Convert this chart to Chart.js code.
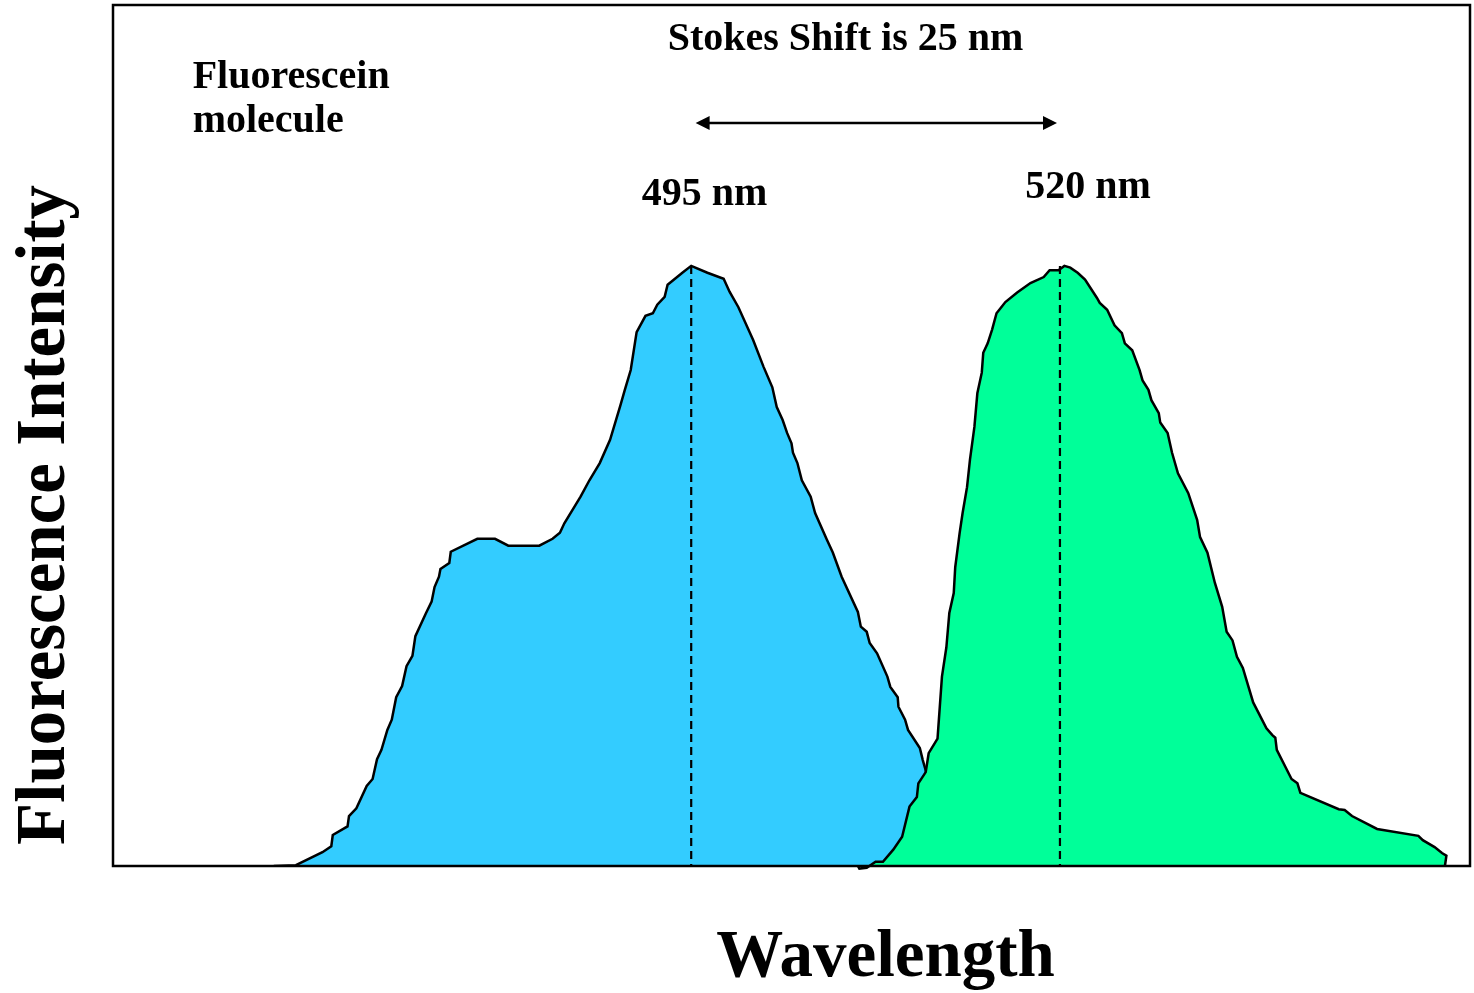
<!DOCTYPE html>
<html><head><meta charset="utf-8">
<script src="https://cdn.jsdelivr.net/npm/chart.js@4.4.0/dist/chart.umd.min.js"></script>
<style>html,body{margin:0;padding:0;background:#fff;} #wrap{width:1474px;height:993px;}</style>
</head><body><div id="wrap"><canvas id="c" width="1474" height="993"></canvas></div>
<script>
// Excitation (absorption) spectrum of fluorescein - blue
const excitationWavelength = [466.7, 468.2, 470.0, 470.6, 470.7, 471.7, 471.8, 472.3, 473.0, 473.4, 473.7, 474.0, 474.4, 474.7, 475.0, 475.4, 475.7, 476.1, 476.3, 477.0, 477.4, 477.6, 477.9, 478.0, 478.6, 478.7, 480.5, 481.7, 482.6, 484.7, 485.6, 486.1, 486.4, 487.5, 488.1, 488.8, 489.5, 490.2, 490.5, 490.9, 491.3, 491.9, 492.4, 492.7, 493.2, 493.4, 494.4, 495.0, 496.1, 497.2, 497.6, 498.2, 499.2, 499.9, 500.5, 500.8, 501.2, 501.5, 501.8, 501.9, 502.2, 502.5, 503.1, 503.4, 504.2, 504.6, 505.2, 506.3, 506.5, 506.9, 507.1, 507.6, 508.3, 508.5, 509.0, 509.05, 509.5, 509.7, 510.5, 510.7, 510.9, 511.2, 511.6];
const excitationIntensity = [0, 0.1, 1.6, 2.3, 3.6, 4.6, 5.8, 6.7, 9.3, 10.1, 12.4, 13.5, 15.8, 17.0, 19.6, 20.9, 23.2, 24.4, 26.7, 29.3, 30.7, 32.4, 33.6, 34.5, 35.2, 36.5, 38.0, 38.0, 37.2, 37.2, 38.0, 38.7, 39.8, 42.9, 44.8, 46.8, 49.5, 53.5, 55.3, 57.6, 62.0, 63.9, 64.2, 65.2, 66.1, 67.5, 68.9, 69.7, 68.9, 68.2, 66.7, 64.9, 61.1, 58.0, 55.6, 53.3, 51.8, 50.3, 49.1, 48.0, 46.8, 44.8, 42.9, 41.0, 37.9, 36.4, 33.6, 29.5, 27.8, 27.2, 25.9, 24.7, 22.0, 20.8, 19.6, 18.5, 17.0, 15.8, 13.7, 12.3, 11.1, 7.7, 0];

// Emission spectrum of fluorescein - green
const emissionWavelength = [506.3, 506.4, 506.9, 507.5, 508.0, 508.7, 509.3, 509.8, 510.3, 510.4, 510.9, 511.1, 511.7, 512.0, 512.3, 512.5, 512.8, 512.9, 513.2, 513.4, 513.7, 513.9, 514.2, 514.4, 514.7, 514.8, 515.1, 515.4, 515.7, 516.3, 517.1, 518.0, 518.9, 519.3, 519.9, 520.3, 520.7, 521.2, 521.7, 522.5, 522.7, 523.2, 523.7, 524.2, 524.4, 524.9, 525.4, 525.6, 526.0, 526.2, 526.7, 526.8, 527.3, 527.6, 528.0, 528.7, 529.3, 529.5, 530.0, 530.5, 531.0, 531.3, 531.7, 532.0, 532.4, 533.1, 534.0, 534.4, 534.6, 534.7, 535.7, 536.1, 536.3, 538.9, 539.3, 539.8, 541.5, 544.3, 544.6, 545.4, 545.9, 546.2, 546.1];
const emissionIntensity = [0, -0.3, -0.2, 0.5, 0.5, 1.9, 3.4, 6.9, 8.0, 9.6, 10.9, 13.1, 14.8, 22.0, 25.4, 29.4, 31.7, 34.7, 38.7, 41.0, 44.0, 47.2, 51.0, 54.9, 57.3, 59.6, 60.7, 62.3, 64.2, 65.5, 66.6, 67.7, 68.4, 69.2, 69.2, 69.7, 69.5, 68.9, 68.1, 66.0, 65.4, 64.6, 62.8, 61.9, 60.7, 59.9, 57.6, 56.4, 55.3, 54.1, 52.6, 51.5, 50.3, 48.0, 45.6, 43.3, 40.2, 38.2, 36.4, 32.9, 30.1, 27.2, 26.2, 24.3, 23.0, 19.0, 16.0, 15.2, 14.9, 13.5, 10.1, 9.6, 8.5, 6.6, 6.5, 5.8, 4.3, 3.5, 3.0, 2.2, 1.5, 1.2, 0];

const peakWavelengths = [495, 520];
const peakIntensities = [69.7, 69.7];
const peakLabels = ['495 nm', '520 nm'];
const shiftLabel = 'Stokes Shift is 25 nm';
const moleculeLabel = ['Fluorescein', 'molecule'];
const xAxisTitle = 'Wavelength';
const yAxisTitle = 'Fluorescence Intensity';

const zip = (xs, ys) => xs.map((x, i) => ({x, y: ys[i]}));

const FONT = '"Liberation Serif", "Times New Roman", serif';

const annotate = {
  id: 'annotate',
  afterDraw(chart) {
    const {ctx, chartArea: a, scales: {x, y}} = chart;
    ctx.save();
    // frame
    ctx.strokeStyle = '#000';
    ctx.lineWidth = 2.5;
    ctx.strokeRect(a.left, a.top, a.right - a.left, a.bottom - a.top);

    // double-headed arrow for Stokes shift
    const ay = y.getPixelForValue(86.3);
    const ax1 = x.getPixelForValue(495.3);
    const ax2 = x.getPixelForValue(519.8);
    const hl = 14, hw = 7;
    ctx.lineWidth = 2.5;
    ctx.beginPath();
    ctx.moveTo(ax1 + hl - 2, ay);
    ctx.lineTo(ax2 - hl + 2, ay);
    ctx.stroke();
    ctx.fillStyle = '#000';
    ctx.beginPath();
    ctx.moveTo(ax1, ay); ctx.lineTo(ax1 + hl, ay - hw); ctx.lineTo(ax1 + hl, ay + hw); ctx.closePath(); ctx.fill();
    ctx.beginPath();
    ctx.moveTo(ax2, ay); ctx.lineTo(ax2 - hl, ay - hw); ctx.lineTo(ax2 - hl, ay + hw); ctx.closePath(); ctx.fill();

    // texts
    ctx.fillStyle = '#000';
    ctx.textBaseline = 'alphabetic';
    ctx.font = 'bold 40px ' + FONT;
    ctx.textAlign = 'center';
    ctx.fillText(shiftLabel, x.getPixelForValue(505.46), y.getPixelForValue(94.8));
    ctx.fillText(peakLabels[0], x.getPixelForValue(495.9), y.getPixelForValue(76.8));
    ctx.fillText(peakLabels[1], x.getPixelForValue(521.9), y.getPixelForValue(77.6));
    ctx.textAlign = 'left';
    ctx.fillText(moleculeLabel[0], x.getPixelForValue(461.2), y.getPixelForValue(90.4));
    ctx.fillText(moleculeLabel[1], x.getPixelForValue(461.2), y.getPixelForValue(85.2));

    // axis titles
    ctx.textAlign = 'center';
    ctx.font = 'bold 67px ' + FONT;
    ctx.fillText(xAxisTitle, 885.5, a.bottom + 110);
    ctx.save();
    ctx.font = 'bold 69px ' + FONT;
    ctx.translate(a.left - 49, 515);
    ctx.rotate(-Math.PI / 2);
    ctx.fillText(yAxisTitle, 0, 0);
    ctx.restore();
    ctx.restore();
  }
};

new Chart(document.getElementById('c'), {
  type: 'line',
  data: {
    datasets: [
      {
        label: 'Excitation peak',
        data: [{x: peakWavelengths[0], y: peakIntensities[0]}, {x: peakWavelengths[0], y: 0}],
        borderColor: '#000', borderWidth: 2.2, borderDash: [8, 5], fill: false, pointRadius: 0, order: -2
      },
      {
        label: 'Emission peak',
        data: [{x: peakWavelengths[1], y: peakIntensities[1]}, {x: peakWavelengths[1], y: 0}],
        borderColor: '#000', borderWidth: 2.2, borderDash: [8, 5], fill: false, pointRadius: 0, order: -2
      },
      {
        label: 'Emission',
        data: zip(emissionWavelength, emissionIntensity),
        borderColor: '#000', borderWidth: 2.5, backgroundColor: '#00FF99',
        fill: 'origin', pointRadius: 0, tension: 0, order: 0, clip: 4
      },
      {
        label: 'Excitation',
        data: zip(excitationWavelength, excitationIntensity),
        borderColor: '#000', borderWidth: 2.5, backgroundColor: '#33CCFF',
        fill: 'origin', pointRadius: 0, tension: 0, order: 1
      }
    ]
  },
  options: {
    responsive: false,
    devicePixelRatio: 1,
    animation: false,
    events: [],
    layout: {padding: {left: 113, top: 5, right: 4, bottom: 127}},
    plugins: {legend: {display: false}, tooltip: {enabled: false}, title: {display: false}},
    scales: {
      x: {type: 'linear', min: 455.8, max: 547.8, display: false},
      y: {type: 'linear', min: 0, max: 100, display: false}
    }
  },
  plugins: [annotate]
});
</script>
</body></html>
